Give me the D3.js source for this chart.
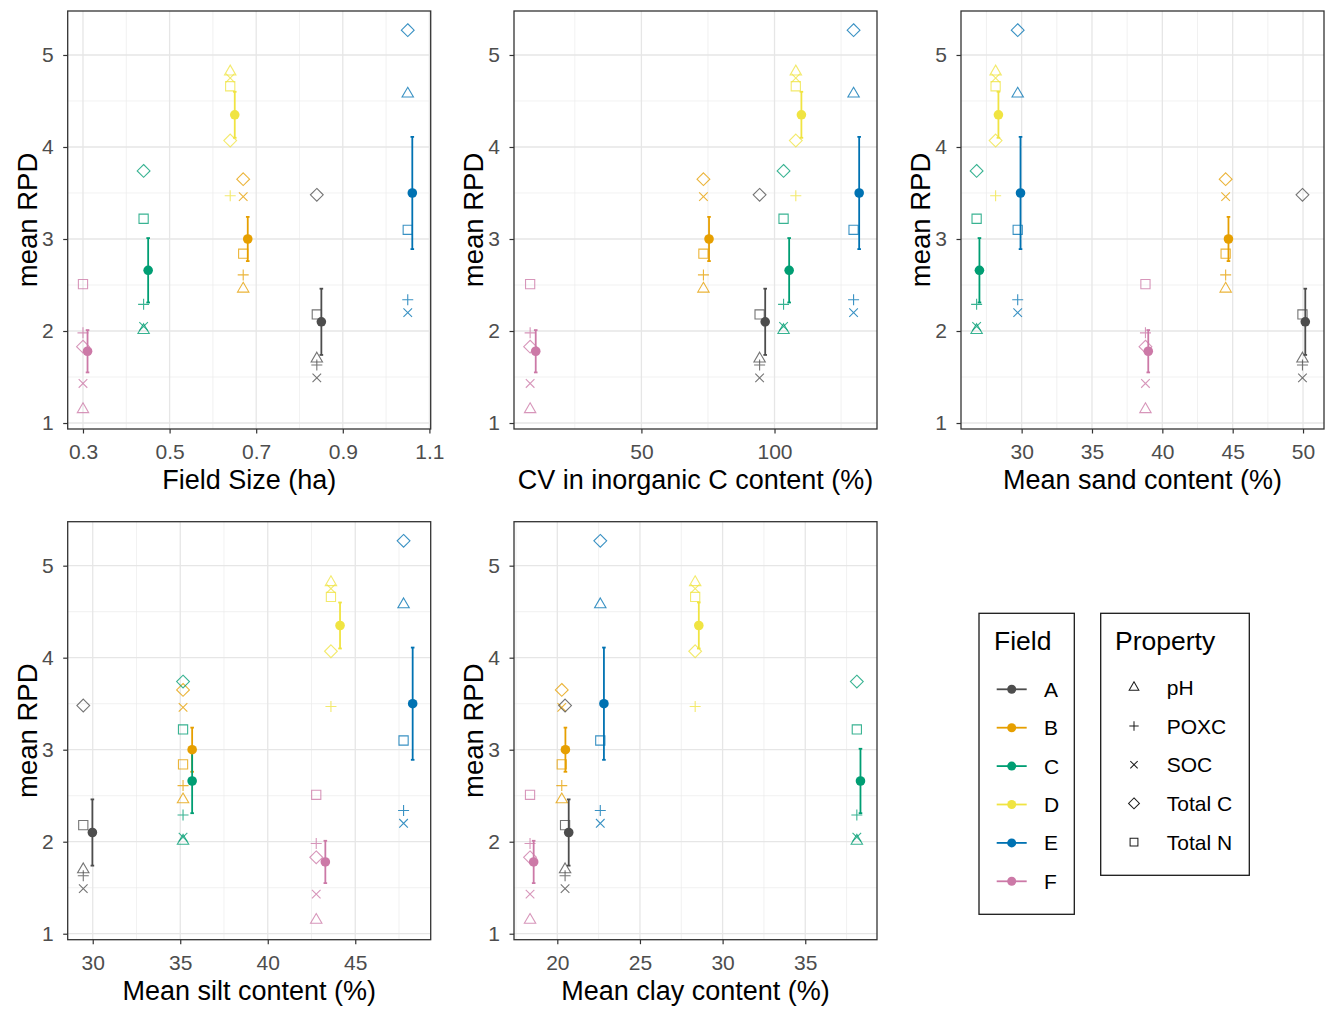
<!DOCTYPE html>
<html>
<head>
<meta charset="utf-8">
<script src="https://cdn.jsdelivr.net/npm/d3@7"></script>
<style>
    body { margin: 0; background: #fff; }
    text { font-family: "Liberation Sans", Arial, sans-serif; }
</style>
</head>
<body>
<svg id="chart" width="1325" height="1009"></svg>
<script>
// fields and colours
const fields = ['A', 'B', 'C', 'D', 'E', 'F'];
const fieldColors = ['#4D4D4D', '#E69F00', '#009E73', '#F0E442', '#0072B2', '#CC79A7'];

// RPD of each soil property, per field (A..F)
const properties = ['pH', 'POXC', 'SOC', 'Total C', 'Total N'];
const rpdPH     = [1.70, 2.46, 2.01, 4.82, 4.58, 1.15];
const rpdPOXC   = [1.63, 2.61, 2.29, 3.47, 2.34, 1.98];
const rpdSOC    = [1.49, 3.46, 2.05, 4.75, 2.20, 1.43];
const rpdTotalC = [3.48, 3.65, 3.74, 4.07, 5.27, 1.83];
const rpdTotalN = [2.18, 2.84, 3.22, 4.66, 3.10, 2.51];

// mean RPD and its standard error, per field
const meanRPD = [2.10, 3.00, 2.66, 4.35, 3.50, 1.78];
const seRPD   = [0.36, 0.24, 0.35, 0.25, 0.61, 0.23];

// field characteristics (x values), per field
const fieldSize = [0.84, 0.67, 0.44, 0.64, 1.05, 0.30];
const cvInorgC  = [94.4, 73.3, 103.4, 108.0, 129.7, 8.2];
const meanSand  = [49.96, 44.5, 26.8, 28.15, 29.72, 38.8];
const meanSilt  = [29.46, 35.16, 35.16, 43.61, 47.76, 42.77];
const meanClay  = [20.47, 20.27, 38.12, 28.34, 22.6, 18.35];

const yTicks = [1, 2, 3, 4, 5];
const yMinor = [1.5, 2.5, 3.5, 4.5];

const rpdByProperty = [rpdPH, rpdPOXC, rpdSOC, rpdTotalC, rpdTotalN];

const panels = [
    {xs: fieldSize, title: 'Field Size (ha)', domain: [0.2647, 1.103], ticks: [0.3, 0.5, 0.7, 0.9, 1.1],
        minor: [0.4, 0.6, 0.8, 1.0], nudge: 0.0105, fmt: d3.format('.1f'), left: 67.7, top: 11},
    {xs: cvInorgC, title: 'CV in inorganic C content (%)', domain: [2.14, 138.5], ticks: [50, 100],
        minor: [25, 75, 125], nudge: 2.1, fmt: d3.format('d'), left: 514, top: 11},
    {xs: meanSand, title: 'Mean sand content (%)', domain: [25.69, 51.49], ticks: [30, 35, 40, 45, 50],
        minor: [27.5, 32.5, 37.5, 42.5, 47.5], nudge: 0.2, fmt: d3.format('d'), left: 961, top: 11},
    {xs: meanSilt, title: 'Mean silt content (%)', domain: [28.57, 49.31], ticks: [30, 35, 40, 45],
        minor: [32.5, 37.5, 42.5, 47.5], nudge: 0.52, fmt: d3.format('d'), left: 67.7, top: 521.7},
    {xs: meanClay, title: 'Mean clay content (%)', domain: [17.38, 39.34], ticks: [20, 25, 30, 35],
        minor: [17.5, 22.5, 27.5, 32.5, 37.5], nudge: 0.22, fmt: d3.format('d'), left: 514, top: 521.7}
];

const panelW = 363;
const panelH = 418;
const yDomain = [0.935, 5.478];

const shapePaths = {
    'pH': 'M0,-6.4L5.7,3.4L-5.7,3.4Z',
    'POXC': 'M-5.5,0H5.5M0,-5.5V5.5',
    'SOC': 'M-4.3,-4.3L4.3,4.3M-4.3,4.3L4.3,-4.3',
    'Total C': 'M0,-6.4L6.4,0L0,6.4L-6.4,0Z',
    'Total N': 'M-4.6,-4.6H4.6V4.6H-4.6Z'
};

const svg = d3.select('#chart');

function drawPanel(p) {
    const g = svg.append('g').attr('transform', `translate(${p.left},${p.top})`);
    const x = d3.scaleLinear().domain(p.domain).range([0, panelW]);
    const y = d3.scaleLinear().domain(yDomain).range([panelH, 0]);

    // grid
    g.selectAll('.xminor').data(p.minor).enter().append('line')
        .attr('x1', d => x(d)).attr('x2', d => x(d)).attr('y1', 0).attr('y2', panelH)
        .attr('stroke', '#EBEBEB').attr('stroke-width', 0.7);
    g.selectAll('.yminor').data(yMinor).enter().append('line')
        .attr('x1', 0).attr('x2', panelW).attr('y1', d => y(d)).attr('y2', d => y(d))
        .attr('stroke', '#EBEBEB').attr('stroke-width', 0.7);
    g.selectAll('.xmajor').data(p.ticks).enter().append('line')
        .attr('x1', d => x(d)).attr('x2', d => x(d)).attr('y1', 0).attr('y2', panelH)
        .attr('stroke', '#E6E6E6').attr('stroke-width', 1.3);
    g.selectAll('.ymajor').data(yTicks).enter().append('line')
        .attr('x1', 0).attr('x2', panelW).attr('y1', d => y(d)).attr('y2', d => y(d))
        .attr('stroke', '#E6E6E6').attr('stroke-width', 1.3);

    // property points
    const pts = [];
    for (var j = 0; j < properties.length; j++) {
        for (var i = 0; i < fields.length; i++) {
            pts.push({field: i, prop: properties[j], value: rpdByProperty[j][i]});
        }
    }
    g.selectAll('.prop').data(pts).enter().append('path')
        .attr('transform', d => `translate(${x(p.xs[d.field])},${y(d.value)})`)
        .attr('d', d => shapePaths[d.prop])
        .attr('fill', 'none')
        .attr('stroke', d => fieldColors[d.field])
        .attr('stroke-opacity', 0.78)
        .attr('stroke-width', 1.1);

    // error bars and means
    const means = fields.map((f, i) => ({field: i, mean: meanRPD[i], se: seRPD[i]}));
    const eb = g.selectAll('.eb').data(means).enter().append('g')
        .attr('stroke', d => fieldColors[d.field])
        .attr('stroke-width', 1.8);
    eb.append('line')
        .attr('x1', d => x(p.xs[d.field] + p.nudge)).attr('x2', d => x(p.xs[d.field] + p.nudge))
        .attr('y1', d => y(d.mean - d.se)).attr('y2', d => y(d.mean + d.se));
    eb.append('line')
        .attr('x1', d => x(p.xs[d.field] + p.nudge) - 1.8).attr('x2', d => x(p.xs[d.field] + p.nudge) + 1.8)
        .attr('y1', d => y(d.mean + d.se)).attr('y2', d => y(d.mean + d.se));
    eb.append('line')
        .attr('x1', d => x(p.xs[d.field] + p.nudge) - 1.8).attr('x2', d => x(p.xs[d.field] + p.nudge) + 1.8)
        .attr('y1', d => y(d.mean - d.se)).attr('y2', d => y(d.mean - d.se));
    g.selectAll('.mean').data(means).enter().append('circle')
        .attr('cx', d => x(p.xs[d.field] + p.nudge))
        .attr('cy', d => y(d.mean))
        .attr('r', 4.8)
        .attr('fill', d => fieldColors[d.field]);

    // border
    g.append('rect').attr('width', panelW).attr('height', panelH)
        .attr('fill', 'none').attr('stroke', '#333333').attr('stroke-width', 1.3);

    // axes
    const xAxis = g.append('g').attr('transform', `translate(0,${panelH})`)
        .call(d3.axisBottom(x).tickValues(p.ticks).tickFormat(p.fmt).tickSize(4.5).tickPadding(10.5));
    const yAxis = g.append('g')
        .call(d3.axisLeft(y).tickValues(yTicks).tickFormat(d3.format('d')).tickSize(4.5).tickPadding(9.5));
    [xAxis, yAxis].forEach(a => {
        a.select('.domain').remove();
        a.selectAll('line').attr('stroke', '#333333').attr('stroke-width', 1.2);
        a.selectAll('text').attr('fill', '#4D4D4D').style('font-size', '21px')
            .style('font-family', '"Liberation Sans", Arial, sans-serif');
    });

    g.append('text')
        .attr('x', panelW / 2).attr('y', panelH + 60)
        .attr('text-anchor', 'middle')
        .style('font-size', '27px')
        .text(p.title);
    g.append('text')
        .attr('transform', `translate(-31,${panelH / 2}) rotate(-90)`)
        .attr('text-anchor', 'middle')
        .style('font-size', '27.5px')
        .text('mean RPD');
}

panels.forEach(drawPanel);

// legends
const legField = svg.append('g').attr('transform', 'translate(979,613.3)');
legField.append('rect').attr('width', 95.3).attr('height', 301)
    .attr('fill', 'none').attr('stroke', '#1a1a1a').attr('stroke-width', 1.3);
legField.append('text').attr('x', 15).attr('y', 37).style('font-size', '26.5px').text('Field');
const fk = legField.selectAll('.fk').data(fields).enter().append('g')
    .attr('transform', (d, i) => `translate(0,${76 + i * 38.4})`);
fk.append('line').attr('x1', 17.7).attr('x2', 47.7)
    .attr('stroke', (d, i) => fieldColors[i]).attr('stroke-width', 1.8);
fk.append('circle').attr('cx', 32.7).attr('r', 4.5).attr('fill', (d, i) => fieldColors[i]);
fk.append('text').attr('x', 65).attr('y', 7.5).style('font-size', '21px').text(d => d);

const legProp = svg.append('g').attr('transform', 'translate(1100.7,613.3)');
legProp.append('rect').attr('width', 148.6).attr('height', 262)
    .attr('fill', 'none').attr('stroke', '#1a1a1a').attr('stroke-width', 1.3);
legProp.append('text').attr('x', 14.3).attr('y', 37).style('font-size', '26.5px').text('Property');
const pk = legProp.selectAll('.pk').data(properties).enter().append('g')
    .attr('transform', (d, i) => `translate(0,${74 + i * 38.7})`);
pk.append('path').attr('transform', 'translate(33.3,0) scale(0.85)')
    .attr('d', d => shapePaths[d]).attr('fill', 'none')
    .attr('stroke', '#1a1a1a').attr('stroke-width', 1.2);
pk.append('text').attr('x', 66).attr('y', 7.5).style('font-size', '21px').text(d => d);
</script>
</body>
</html>
